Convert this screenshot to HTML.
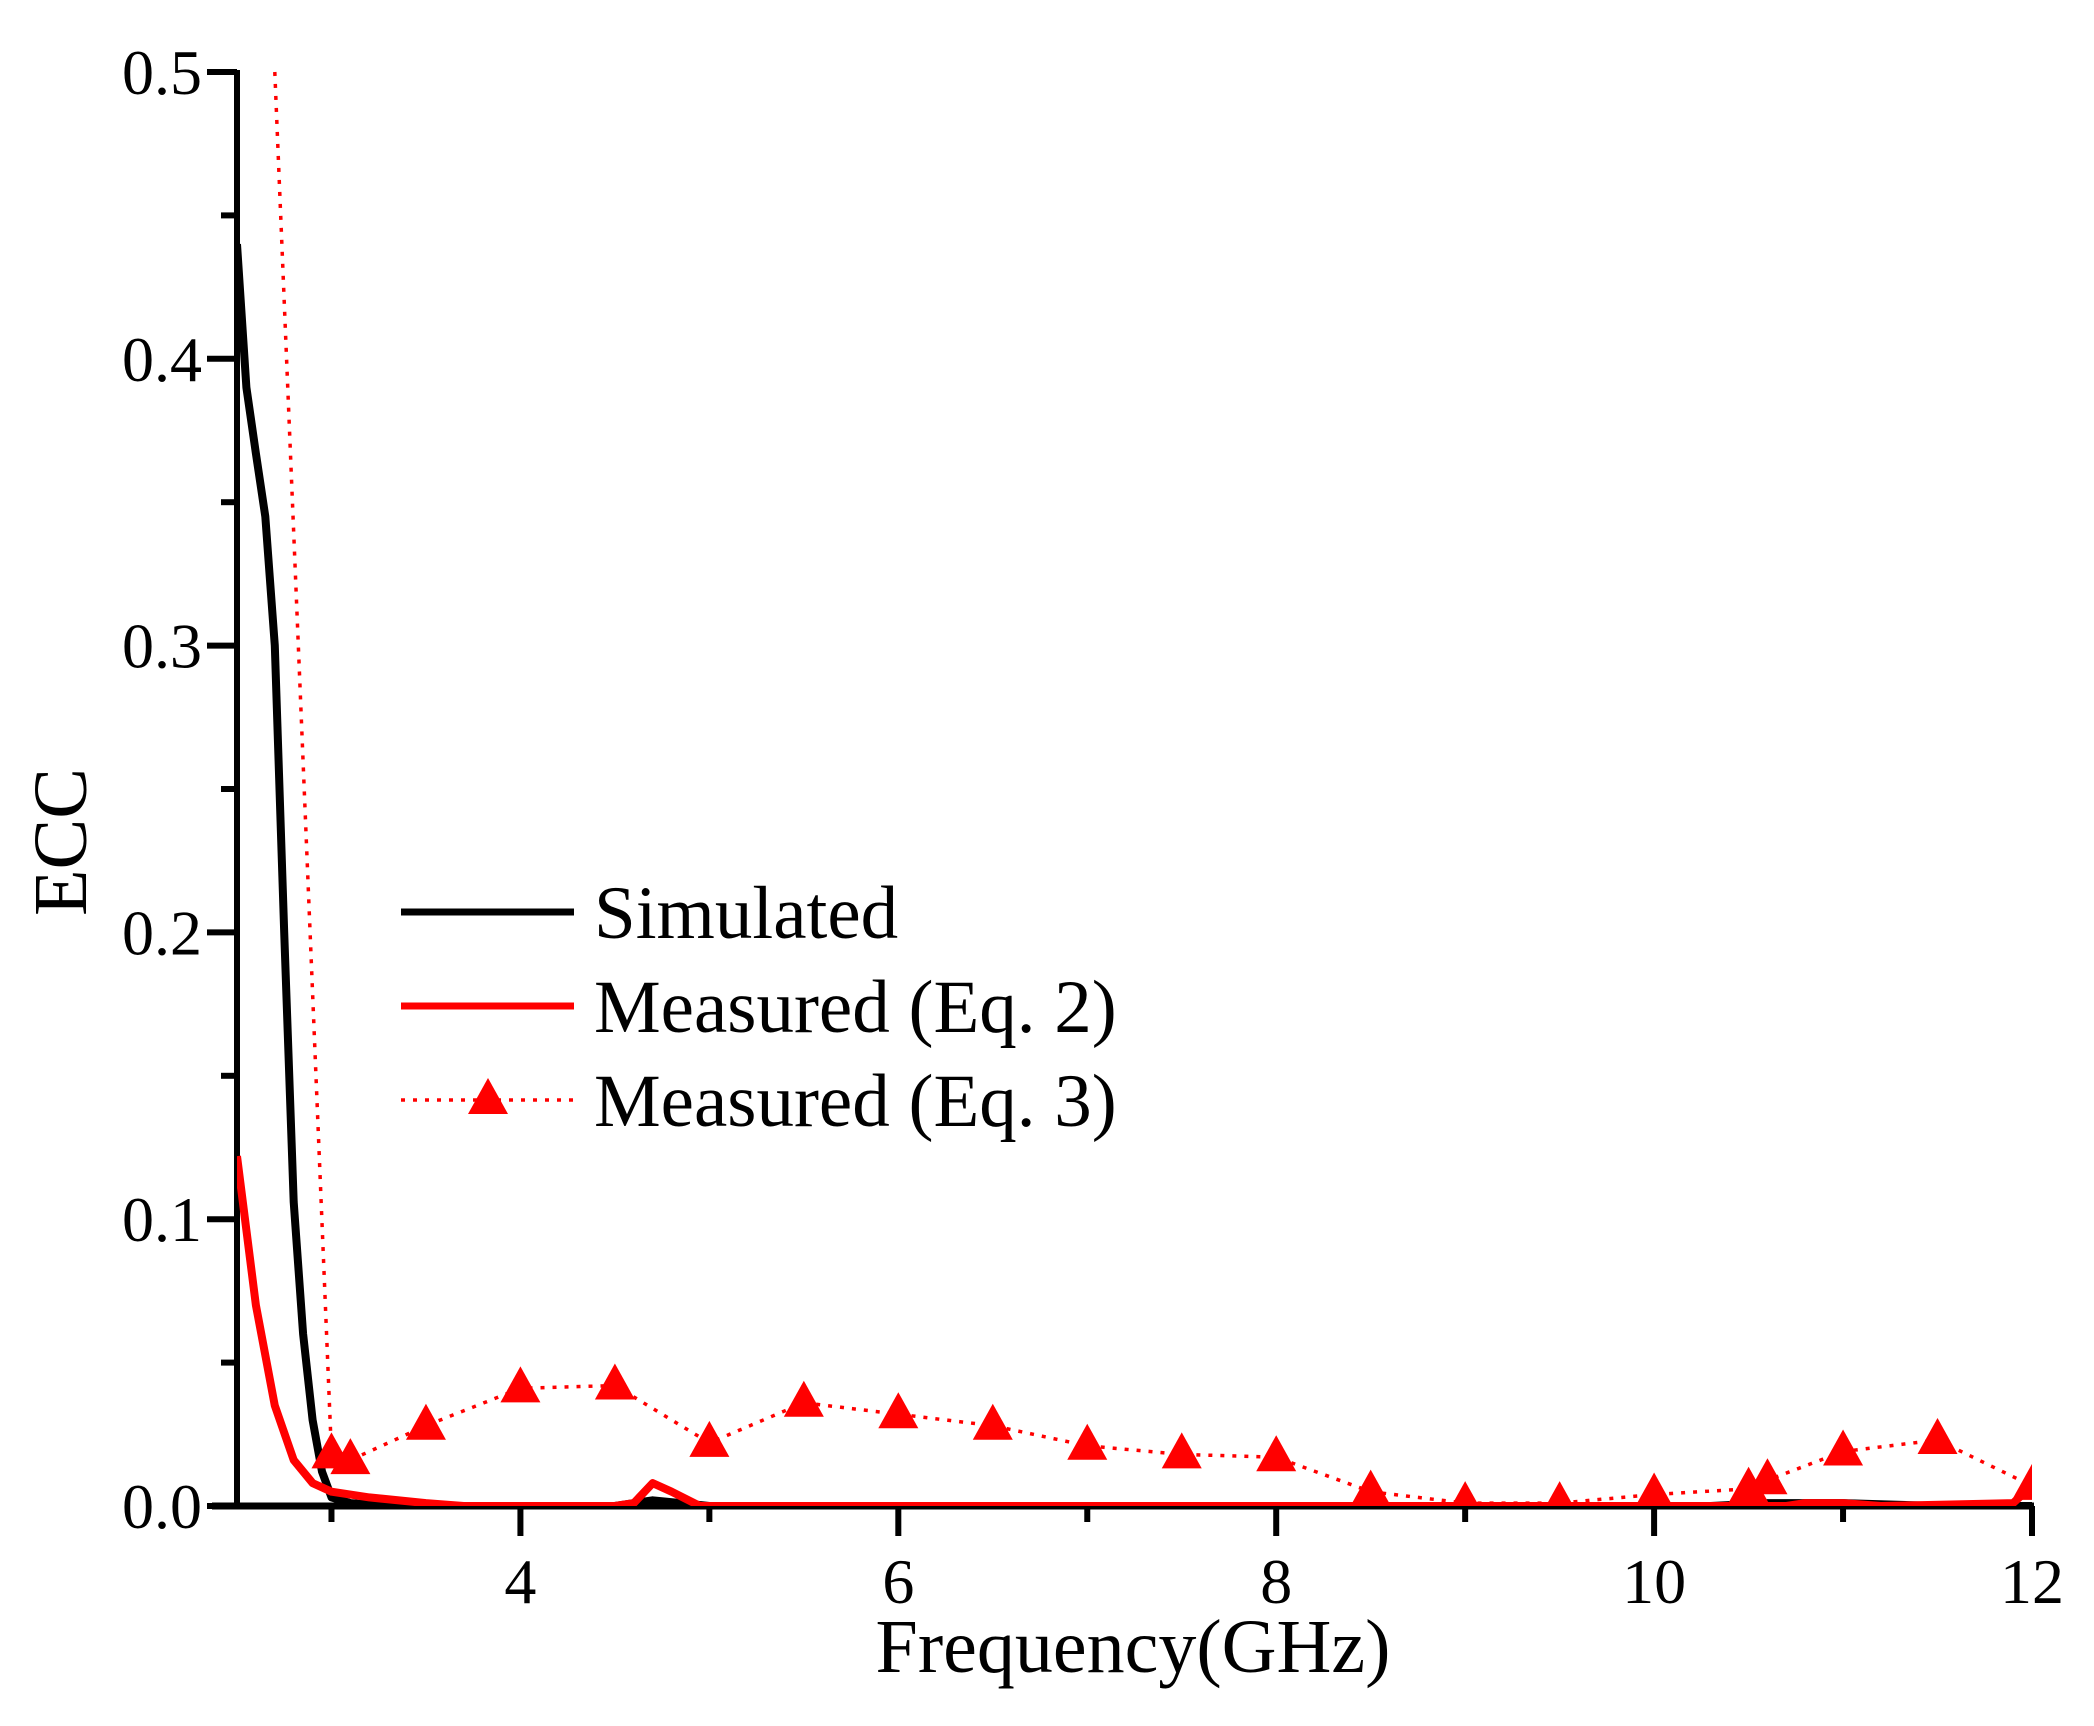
<!DOCTYPE html>
<html><head><meta charset="utf-8"><style>
html,body{margin:0;padding:0;background:#fff;}
svg{display:block;font-family:"Liberation Serif",serif;}
</style></head><body>
<svg id="chart" width="2094" height="1726" viewBox="0 0 2094 1726" xmlns="http://www.w3.org/2000/svg">
<defs><clipPath id="plotclip"><rect x="237" y="60" width="1795" height="1446"/></clipPath></defs>
<g id="axes"></g>
<g id="series" clip-path="url(#plotclip)"></g>
<g id="legend"></g>
</svg>
<script>
const simFreq = [2.5,2.55,2.6,2.65,2.7,2.75,2.8,2.85,2.9,2.95,3.0,3.1,3.3,4.5,4.7,4.85,5.0,10.3,10.6,11.0,11.5,12.0];
const simEcc  = [0.44,0.39,0.367,0.345,0.30,0.20,0.106,0.06,0.03,0.012,0.003,0.001,0.0,0.0,0.002,0.001,0.0,0.0,0.001,0.001,0.0,0.0];
const eq2Freq = [2.5,2.6,2.7,2.8,2.9,3.0,3.2,3.5,3.7,4.5,4.6,4.7,4.8,4.95,10.7,10.8,11.0,11.2,11.9,12.0];
const eq2Ecc  = [0.122,0.07,0.035,0.016,0.008,0.005,0.003,0.001,0.0,0.0,0.001,0.008,0.005,0.0,0.0,0.001,0.001,0.0,0.001,0.007];
const eq3Freq = [2.7,3.0,3.1,3.5,4.0,4.5,5.0,5.5,6.0,6.5,7.0,7.5,8.0,8.5,9.0,9.5,10.0,10.5,10.6,11.0,11.5,12.0];
const eq3Ecc  = [0.5,0.018,0.016,0.028,0.041,0.042,0.022,0.036,0.032,0.028,0.021,0.018,0.017,0.005,0.001,0.001,0.004,0.006,0.009,0.019,0.023,0.007];
const eq3Marker = [false,true,true,true,true,true,true,true,true,true,true,true,true,true,true,true,true,true,true,true,true,true];
const xTicks = [4,6,8,10,12];
const xMinor = [3,5,7,9,11];
const yTicks = [0.0,0.1,0.2,0.3,0.4,0.5];
const yMinor = [0.05,0.15,0.25,0.35,0.45];
const yTickLabels = ["0.0","0.1","0.2","0.3","0.4","0.5"];

const X0=237,X1=2032,Y0=1506,Y1=72,XMIN=2.5,XMAX=12,YMAX=0.5;
function sx(v){return X0+(v-XMIN)/(XMAX-XMIN)*(X1-X0);}
function sy(v){return Y0-v/YMAX*(Y0-Y1);}
const NS="http://www.w3.org/2000/svg";
function mk(tag,attrs,parent){const e=document.createElementNS(NS,tag);for(const k in attrs)e.setAttribute(k,attrs[k]);parent.appendChild(e);return e;}
const axes=document.getElementById('axes'),series=document.getElementById('series'),legend=document.getElementById('legend');

let e;
e=mk('line',{x1:X0,y1:Y1-2,x2:X0,y2:Y0+3,stroke:'#000','stroke-width':6},axes);


e=mk('line',{x1:X0-25,y1:Y0,x2:X1+2,y2:Y0,stroke:'#000','stroke-width':7},axes);



xTicks.forEach(v=>{
  let t=mk('line',{x1:sx(v),y1:Y0,x2:sx(v),y2:Y0+30,stroke:'#000','stroke-width':6},axes);
  
  
  let l=mk('text',{x:sx(v),y:1603,'text-anchor':'middle','font-size':64},axes);
  l.textContent=String(v);
  
  
});
xMinor.forEach(v=>{
  let t=mk('line',{x1:sx(v),y1:Y0,x2:sx(v),y2:Y0+16,stroke:'#000','stroke-width':6},axes);
  
  
});
yTicks.forEach((v,i)=>{
  let t=mk('line',{x1:X0-30,y1:sy(v),x2:X0,y2:sy(v),stroke:'#000','stroke-width':6},axes);
  
  
  let l=mk('text',{x:202,y:sy(v)+22,'text-anchor':'end','font-size':64},axes);
  l.textContent=yTickLabels[i];
  
  
});
yMinor.forEach(v=>{
  let t=mk('line',{x1:X0-16,y1:sy(v),x2:X0,y2:sy(v),stroke:'#000','stroke-width':6},axes);
  
  
});
e=mk('text',{x:1133,y:1672,'text-anchor':'middle','font-size':76},axes);
e.textContent='Frequency(GHz)';


e=mk('text',{x:0,y:0,'text-anchor':'middle','font-size':76,transform:'translate(86,842) rotate(-90)'},axes);
e.textContent='ECC';



function pts(xs,ys){return xs.map((x,i)=>sx(x).toFixed(1)+','+sy(ys[i]).toFixed(1)).join(' ');}
e=mk('polyline',{points:pts(simFreq,simEcc),fill:'none',stroke:'#000','stroke-width':8,'stroke-linejoin':'round'},series);


e=mk('polyline',{points:pts(eq3Freq,eq3Ecc),fill:'none',stroke:'#f00','stroke-width':3.5,'stroke-dasharray':'4 8'},series);


e=mk('polyline',{points:pts(eq2Freq,eq2Ecc),fill:'none',stroke:'#f00','stroke-width':8,'stroke-linejoin':'round'},series);


function tri(cx,cy,parent){return mk('polygon',{points:`${cx},${cy-22} ${cx-20},${cy+14} ${cx+20},${cy+14}`,fill:'#f00'},parent);}
eq3Freq.forEach((f,i)=>{
  if(!eq3Marker[i])return;
  let m=tri(sx(f),sy(eq3Ecc[i]),series);
  
  
});

const legY=[912,1006,1100];
const legText=['Simulated','Measured (Eq. 2)','Measured (Eq. 3)'];
legText.forEach((t,i)=>{
  let g=mk('g',{},legend);
  
  
  let ln;
  if(i===0) ln=mk('line',{x1:401,y1:legY[i],x2:574,y2:legY[i],stroke:'#000','stroke-width':7},g);
  else if(i===1) ln=mk('line',{x1:401,y1:legY[i],x2:574,y2:legY[i],stroke:'#f00','stroke-width':7},g);
  else { ln=mk('line',{x1:401,y1:legY[i],x2:574,y2:legY[i],stroke:'#f00','stroke-width':3.5,'stroke-dasharray':'4 8'},g);
    let m=tri(488,legY[i],g);
    
     }
  
  
  let tx=mk('text',{x:594,y:legY[i]+26,'font-size':75},g);
  tx.textContent=t;
  
  
});
</script>
</body></html>
